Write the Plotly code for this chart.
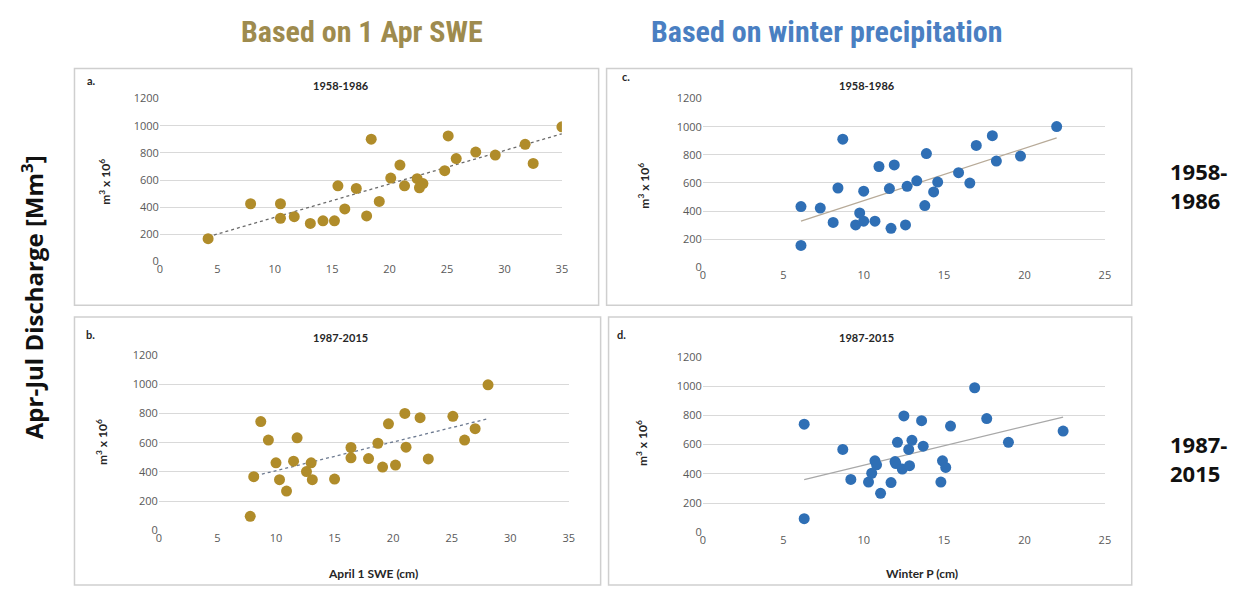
import numpy as np
import plotly.graph_objects as go

# ---------------- data ----------------
swe_a = [4.2, 7.9, 10.5, 10.5, 11.7, 13.1, 14.2, 15.2, 15.5, 16.1, 17.1, 18.0, 18.4, 19.1,
         20.1, 20.9, 21.3, 22.4, 22.9, 22.6, 24.8, 25.1, 25.8, 27.5, 29.2, 31.8, 32.5, 35.0]
q_a = [167, 425, 425, 318, 330, 280, 299, 299, 557, 387, 538, 335, 901, 442,
       614, 710, 557, 610, 574, 543, 669, 925, 758, 806, 784, 863, 722, 992]

swe_b = [7.8, 8.1, 8.7, 9.35, 10.0, 10.3, 10.9, 11.5, 11.8, 12.6, 13.0, 13.1, 15.0, 16.4,
         16.4, 17.9, 18.7, 19.1, 19.6, 20.2, 21.0, 21.1, 22.3, 23.0, 25.1, 26.1, 27.0, 28.1]
q_b = [96, 367, 744, 618, 462, 347, 269, 473, 633, 402, 462, 347, 351, 567,
       496, 491, 596, 433, 729, 447, 800, 569, 771, 489, 780, 618, 696, 996]

p_c = [6.1, 6.1, 7.3, 8.1, 8.4, 8.7, 9.5, 9.75, 10.0, 10.0, 10.7, 10.95, 11.6, 11.7, 11.9,
       12.6, 12.7, 13.3, 13.8, 13.9, 14.35, 14.6, 15.9, 16.6, 17.0, 18.0, 18.25, 19.75, 22.0]
q_c = [432, 155, 421, 319, 564, 911, 301, 386, 541, 328, 328, 717, 560, 277, 728,
       301, 576, 615, 439, 809, 536, 606, 673, 599, 867, 936, 756, 791, 1001]

p_d = [6.3, 6.3, 8.7, 9.2, 10.3, 10.5, 10.7, 10.8, 11.05, 11.7, 11.95, 12.0, 12.1, 12.4,
       12.5, 12.8, 12.85, 13.0, 13.6, 13.7, 14.8, 14.9, 15.1, 15.4, 16.9, 17.65, 19.0, 22.4]
q_d = [740, 93, 567, 362, 344, 404, 489, 462, 267, 340, 484, 470, 616, 433,
       796, 567, 456, 629, 764, 589, 344, 489, 444, 727, 989, 778, 616, 693]

x_ticks_swe = [0, 5, 10, 15, 20, 25, 30, 35]
x_ticks_p = [0, 5, 10, 15, 20, 25]
y_ticks = [0, 200, 400, 600, 800, 1000, 1200]

GOLD = "#B08C2A"
BLUE = "#2F6FB5"
W, H = 1237, 590


def fx(px):
    return px / W


def fy(py):
    return 1 - py / H


fig = go.Figure()

panels = [
    (swe_a, q_a, GOLD, "", "dot", "#6b6b6b"),
    (swe_b, q_b, GOLD, "2", "dot", "#6d7a90"),
    (p_c, q_c, BLUE, "3", "solid", "#b7aa98"),
    (p_d, q_d, BLUE, "4", "solid", "#a8a8a8"),
]

for xs, ys, col, ax, dash, tcol in panels:
    xs_a = np.array(xs)
    ys_a = np.array(ys)
    m, b = np.polyfit(xs_a, ys_a, 1)
    tx = np.array([xs_a.min(), xs_a.max()])
    fig.add_trace(go.Scatter(x=tx, y=m * tx + b, mode="lines",
                             line=dict(color=tcol, width=1.3, dash=dash),
                             xaxis="x" + ax, yaxis="y" + ax, showlegend=False,
                             hoverinfo="skip"))
    fig.add_trace(go.Scatter(x=xs, y=ys, mode="markers",
                             marker=dict(color=col, size=11, line=dict(width=0)),
                             xaxis="x" + ax, yaxis="y" + ax, showlegend=False))

tickfont = dict(family="Open Sans, Liberation Sans, sans-serif", size=11, color="#595959")


def xax(dom, anchor, rng, ticks):
    return dict(domain=dom, anchor=anchor, range=rng, tickvals=ticks,
                showgrid=False, zeroline=False, showline=False, ticks="",
                tickfont=tickfont, fixedrange=True)


def yax(dom, anchor):
    return dict(domain=dom, anchor=anchor, range=[0, 1200], tickvals=y_ticks,
                showgrid=True, gridcolor="#d9d9d9", gridwidth=1, zeroline=False,
                showline=False, ticks="", tickfont=tickfont, fixedrange=True)


fig.update_layout(
    width=W, height=H,
    margin=dict(l=0, r=0, t=0, b=0),
    paper_bgcolor="white", plot_bgcolor="white",
    xaxis=xax([fx(158), fx(563)], "y", [0, 35], x_ticks_swe),
    yaxis=yax([fy(260), fy(93)], "x"),
    xaxis2=xax([fx(157), fx(570)], "y2", [0, 35], x_ticks_swe),
    yaxis2=yax([fy(536), fy(356)], "x2"),
    xaxis3=xax([fx(705), fx(1110)], "y3", [0, 25], x_ticks_p),
    yaxis3=yax([fy(266), fy(93)], "x3"),
    xaxis4=xax([fx(705), fx(1110)], "y4", [0, 25], x_ticks_p),
    yaxis4=yax([fy(538), fy(358)], "x4"),
)

# panel borders
for x0, y0, x1, y1 in [(72, 62, 600, 305), (72, 317, 602, 592),
                       (608, 62, 1137, 305), (610, 317, 1137, 592)]:
    fig.add_shape(type="rect", xref="paper", yref="paper",
                  x0=fx(x0), x1=fx(x1), y0=fy(y1), y1=fy(y0),
                  line=dict(color="#cfcfcf", width=1.5), fillcolor="rgba(0,0,0,0)")


def ann(text, px, py, size, color="#262626", family="Open Sans, sans-serif",
        angle=0, bold=True, xanchor="center", align="center"):
    t = f"<b>{text}</b>" if bold else text
    fig.add_annotation(text=t, x=fx(px), y=fy(py), xref="paper", yref="paper",
                       showarrow=False, textangle=angle, xanchor=xanchor, yanchor="middle",
                       align=align,
                       font=dict(size=size, color=color, family=family))


title_font = "Roboto Condensed, Liberation Sans Narrow, Arial Narrow, Roboto, sans-serif"
ann("Based on 1 Apr SWE", 362, 24, 30, color="#9E8B4E", family=title_font)
ann("Based on winter precipitation", 830, 24, 30, color="#4A7FC2", family=title_font)

big = "Open Sans, Noto Sans, sans-serif"
ann("Apr-Jul Discharge [Mm<sup>3</sup>]", 30, 297, 24, color="#111111", family=big, angle=-90)
ann("1958-<br>1986", 1174, 182, 22, color="#111111", family=big, xanchor="left", align="left")
ann("1987-<br>2015", 1174, 462, 22, color="#111111", family=big, xanchor="left", align="left")

small = "Lato, Open Sans, sans-serif"
# panel letters
ann("a.", 89, 74, 11, family=small)
ann("b.", 88, 335, 11, family=small)
ann("c.", 628, 70, 11, family=small)
ann("d.", 623, 335, 11, family=small)
# panel titles
ann("1958-1986", 340, 80, 11, family=small)
ann("1987-2015", 340, 338, 11, family=small)
ann("1958-1986", 870, 80, 11, family=small)
ann("1987-2015", 870, 338, 11, family=small)
# y axis titles
unit = "m<sup>3</sup> x 10<sup>6</sup>"
ann(unit, 103, 178, 12, family=small, angle=-90)
ann(unit, 99, 445, 12, family=small, angle=-90)
ann(unit, 646, 182, 12, family=small, angle=-90)
ann(unit, 643, 446, 12, family=small, angle=-90)
# x axis titles
ann("April 1 SWE (cm)", 373, 580, 12, family=small)
ann("Winter P (cm)", 926, 580, 12, family=small)

fig.write_html("out.html", config={"responsive": False, "displayModeBar": False},
               post_script="document.body.style.margin='0';document.body.style.overflow='hidden';")
